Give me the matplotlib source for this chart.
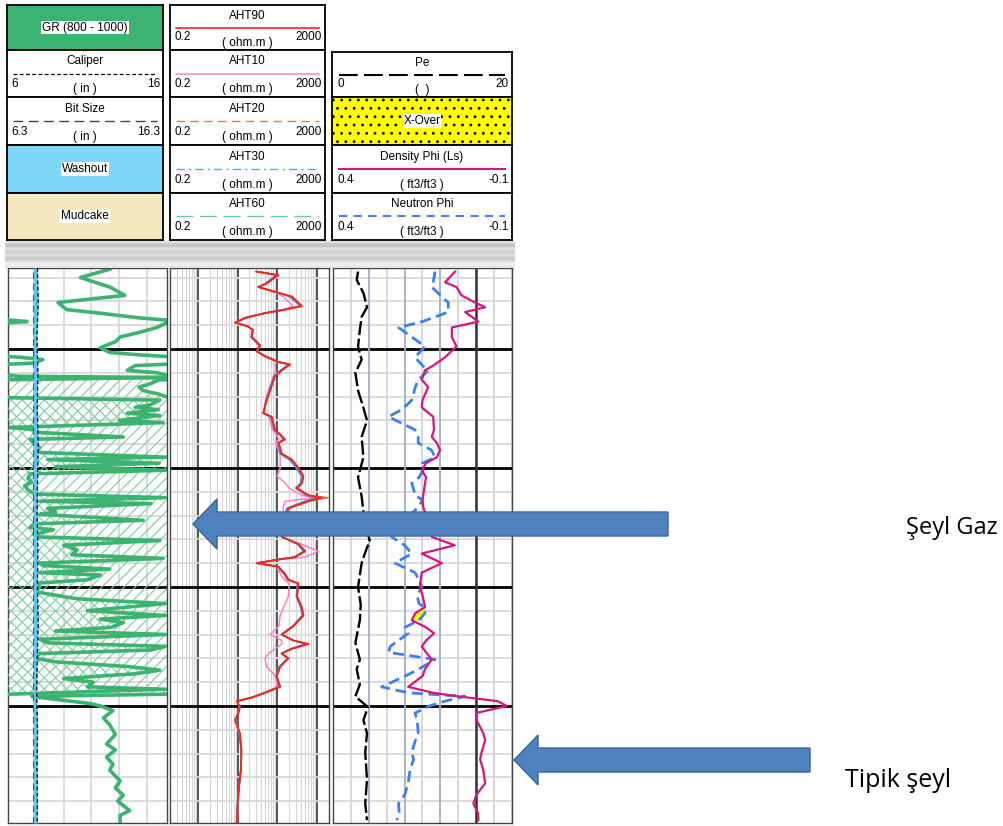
import matplotlib
matplotlib.use("Agg")
import matplotlib.pyplot as plt
import numpy as np
from matplotlib.lines import Line2D
from matplotlib.patches import Rectangle, Polygon
from matplotlib.ticker import MultipleLocator, LogLocator

W, H = 1004, 826

# depth window and the shale-gas interval used for the GR fill
DEPTH_TOP, DEPTH_BASE = 1003.2, 1049.84
GAS_TOP, GAS_BASE = 1012.3, 1039.0

# track scales
GR_SCALE = (0, 200)
GR_WRAP = (200, 400)
CAL_SCALE = (6, 16)
BIT_SCALE = (6.3, 16.3)
RES_SCALE = (0.2, 2000)
PE_SCALE = (0, 20)
PHI_SCALE = (0.4, -0.1)
BIT_SIZE = 7.875

# gamma ray (values above 200 wrap onto the backup scale)
gr_depth = np.array([
    1003.3, 1004.0, 1004.8, 1005.5, 1006.1, 1006.7, 1007.0, 1007.4, 1007.6, 1007.7,
    1007.8, 1008.2, 1008.6, 1009.0, 1009.4, 1009.9, 1010.3, 1010.5, 1010.7, 1010.9,
    1011.2, 1011.4, 1011.8, 1012.0, 1012.2,
    1012.3, 1012.4, 1012.6, 1012.9, 1013.2, 1013.5, 1013.8, 1014.1, 1014.3, 1014.7,
    1014.9, 1015.1, 1015.4, 1015.6, 1016.0, 1016.2, 1016.6, 1016.8, 1017.0, 1017.4,
    1017.6, 1018.0, 1018.3, 1018.5, 1018.7, 1019.1, 1019.3, 1019.6, 1019.9, 1020.2,
    1020.5, 1020.9, 1021.2, 1021.5, 1021.9, 1022.2, 1022.5, 1022.8, 1023.0, 1023.4,
    1023.7, 1023.9, 1024.4, 1024.7, 1025.0, 1025.2, 1025.6, 1025.8, 1026.1, 1026.5,
    1026.9, 1027.3, 1027.6, 1028.0, 1028.2, 1028.5, 1028.8, 1029.0, 1029.4, 1029.7,
    1030.0, 1030.4, 1030.7, 1031.0, 1031.4, 1031.7, 1032.0, 1032.4, 1032.7, 1033.0,
    1033.4, 1033.7, 1034.0, 1034.4, 1034.7, 1035.0, 1035.3, 1035.6, 1036.0, 1036.3,
    1036.7, 1037.0, 1037.3, 1037.7, 1038.0, 1038.4, 1038.6, 1039.0,
    1039.2, 1039.5, 1039.8, 1040.0, 1040.4, 1041.0, 1041.6, 1042.4, 1043.2, 1043.7,
    1044.3, 1044.9, 1045.4, 1046.3, 1046.9, 1047.5, 1048.0, 1048.8, 1049.2, 1049.8])
gr = np.array([
    128, 91, 128, 147, 63, 74, 116, 166, 205, 224,
    200, 187, 166, 141, 135, 116, 128, 166, 215, 244,
    230, 160, 150, 187, 199,
    215, 398, 190, 180, 165, 170, 190, 203, 391, 379,
    360, 389, 350, 391, 340, 395, 203, 236, 234, 345,
    228, 234, 240, 236, 240, 398, 250, 390, 260, 398,
    228, 225, 230, 221, 226, 234, 398, 240, 380, 250,
    260, 240, 370, 234, 228, 257, 232, 240, 391, 270,
    287, 280, 395, 240, 244, 328, 240, 316, 300, 234,
    240, 234, 260, 287, 398, 350, 300, 398, 316, 345,
    330, 260, 398, 240, 250, 398, 380, 240, 234, 260,
    353, 391, 360, 270, 307, 300, 398, 209,
    30, 66, 103, 116, 132, 120, 128, 135, 124, 135,
    124, 132, 128, 141, 135, 145, 138, 153, 141, 141])

# caliper (in)
cal_depth = np.array([1003.2, 1006, 1009, 1012, 1015, 1018, 1021, 1024, 1027,
                      1030, 1033, 1036, 1039, 1042, 1045, 1048, 1049.84])
cal = np.array([7.85, 7.9, 7.82, 7.88, 7.84, 7.9, 7.86, 7.83, 7.88,
                7.85, 7.9, 7.84, 7.8, 7.86, 7.83, 7.85, 7.84])

# array induction resistivities (ohm.m)
res_depth = np.array([
    1003.5, 1003.8, 1004.5, 1004.8, 1005.2, 1005.6, 1006.4, 1006.7, 1007.0, 1007.4,
    1007.8, 1008.1, 1008.4, 1009.0, 1009.7, 1010.2, 1010.6, 1011.1, 1011.3, 1011.8,
    1012.3, 1013.5, 1014.3, 1015.4, 1015.7, 1016.8, 1017.2, 1017.6, 1017.9, 1018.8,
    1019.3, 1020.0, 1020.7, 1021.3, 1021.7, 1022.3, 1022.5, 1022.8, 1023.4, 1024.5,
    1025.8, 1026.4, 1027.0, 1027.5, 1027.7, 1028.0, 1028.3, 1028.9, 1029.4, 1029.7,
    1030.8, 1031.7, 1032.4, 1033.3, 1034.0, 1034.5, 1034.8, 1035.2, 1035.6, 1036.0,
    1036.7, 1037.5, 1038.4, 1038.9, 1039.3, 1039.6, 1040.1, 1040.6, 1041.2, 1042.3,
    1043.7, 1045.4, 1046.8, 1048.2, 1049.8])
aht90 = [30, 107, 54, 33, 88, 233, 416, 157, 49, 15,
         8.6, 18, 24, 23, 37, 30, 49, 107, 211, 130,
         88, 66, 54, 44, 73, 88, 118, 157, 107, 130,
         233, 341, 457, 416, 311, 611, 1300, 611, 191, 150,
         130, 341, 505, 282, 107, 30, 107, 157, 191, 341,
         311, 416, 457, 255, 130, 255, 611, 233, 130, 191,
         118, 97, 118, 49, 23, 9.7, 11.5, 10.5, 8.6, 11.5,
         12.6, 12.2, 10.8, 10, 9.5]
aht60 = [32, 100, 52, 34, 90, 220, 400, 150, 47, 15,
         9.0, 18, 25, 22, 36, 31, 48, 110, 200, 125,
         85, 64, 55, 45, 70, 85, 120, 150, 110, 125,
         220, 330, 440, 400, 300, 580, 1150, 560, 185, 150,
         135, 330, 480, 270, 105, 31, 105, 150, 185, 330,
         320, 400, 440, 250, 128, 250, 560, 225, 128, 185,
         115, 95, 115, 48, 22, 9.8, 11.2, 10.4, 8.8, 11.3,
         12.4, 12.0, 10.9, 10.1, 9.6]
aht30 = [31, 95, 50, 35, 85, 200, 380, 145, 46, 16,
         9.2, 19, 24, 22, 35, 32, 47, 105, 190, 120,
         82, 62, 52, 46, 68, 82, 115, 140, 105, 115,
         200, 300, 400, 380, 290, 520, 900, 480, 170, 145,
         130, 320, 460, 260, 100, 32, 100, 145, 180, 320,
         300, 380, 420, 240, 125, 240, 520, 215, 125, 180,
         112, 93, 112, 47, 22, 10, 11, 10.2, 8.9, 11.2,
         12.3, 12.1, 11, 10.2, 9.7]
aht20 = [30, 105, 53, 33, 87, 230, 410, 160, 48, 15,
         8.8, 18, 24, 23, 37, 30, 49, 108, 205, 128,
         87, 65, 54, 44, 72, 87, 118, 155, 108, 128,
         230, 340, 450, 410, 310, 620, 1900, 640, 195, 150,
         130, 340, 500, 280, 107, 30, 107, 155, 190, 340,
         310, 410, 450, 255, 130, 255, 600, 230, 130, 190,
         118, 97, 118, 49, 23, 9.8, 11.4, 10.5, 8.7, 11.4,
         12.5, 12.1, 10.8, 10.0, 9.5]
aht10 = [28, 90, 50, 36, 80, 140, 250, 140, 45, 17,
         9.5, 19, 23, 22, 34, 33, 45, 95, 88, 90,
         80, 60, 50, 47, 62, 75, 95, 110, 90, 118,
         118, 118, 100, 160, 200, 400, 900, 157, 140, 140,
         130, 400, 1074, 500, 110, 33, 95, 120, 150, 200,
         190, 145, 118, 110, 66, 130, 130, 90, 60, 49,
         54, 90, 100, 45, 22, 10, 11, 10.3, 9, 11,
         12.2, 12, 11, 10.3, 9.8]

# photoelectric factor
pe_depth = [1003.5, 1004.2, 1005.3, 1006.5, 1007.3, 1008.4, 1009.8, 1010.9, 1012.0, 1013.5,
            1014.7, 1016.0, 1017.4, 1019.1, 1020.8, 1022.4, 1024.4, 1026.1, 1027.1, 1028.0,
            1030.0, 1031.5, 1032.8, 1034.7, 1036.1, 1036.9, 1038.2, 1039.2, 1040.1, 1041.2,
            1042.3, 1043.9, 1046.2, 1048.2, 1049.6]
pe = [2.8, 2.65, 3.4, 3.8, 3.2, 3.0, 2.8, 3.2, 2.5, 2.8,
      3.3, 3.8, 3.2, 3.4, 2.8, 3.2, 3.5, 4.1, 3.6, 3.2,
      2.8, 3.1, 3.0, 2.5, 3.0, 2.65, 3.0, 2.5, 3.9, 3.4,
      3.8, 3.6, 3.8, 3.6, 3.8]

# density and neutron porosity (ft3/ft3, limestone matrix)
por_depth = np.array([
    1003.5, 1004.4, 1004.8, 1005.5, 1006.1, 1006.5, 1006.9, 1007.7, 1008.2, 1009.0,
    1009.8, 1010.7, 1011.4, 1011.8, 1012.6, 1013.2, 1014.3, 1014.9, 1015.1, 1015.7,
    1016.8, 1017.4, 1017.9, 1018.5, 1019.1, 1019.6, 1020.2, 1020.8, 1021.3, 1022.3,
    1022.7, 1023.3, 1024.4, 1025.8, 1026.5, 1027.2, 1028.0, 1028.8, 1029.4, 1030.0,
    1030.7, 1031.4, 1031.7, 1032.2, 1032.8, 1033.4, 1033.9, 1034.5, 1035.0, 1035.5,
    1036.1, 1036.9, 1037.5, 1038.4, 1038.9, 1039.2, 1039.6, 1040.0, 1040.6, 1041.2,
    1042.3, 1042.9, 1043.9, 1044.5, 1045.4, 1046.5, 1047.5, 1048.2, 1049.0, 1049.6])
dphi = np.array([
    0.059, 0.087, 0.055, 0.041, 0.003, -0.025, 0.031, -0.006, 0.068, 0.068,
    0.055, 0.087, 0.120, 0.143, 0.152, 0.134, 0.150, 0.152, 0.145, 0.120,
    0.118, 0.124, 0.110, 0.101, 0.110, 0.140, 0.152, 0.140, 0.143, 0.148,
    0.150, 0.148, 0.135, 0.124, 0.060, 0.152, 0.096, 0.152, 0.155, 0.157,
    0.150, 0.145, 0.143, 0.170, 0.180, 0.140, 0.118, 0.140, 0.152, 0.140,
    0.124, 0.143, 0.150, 0.190, 0.120, 0.050, -0.060, -0.085, 0.000, -0.001,
    -0.020, -0.025, -0.015, -0.011, -0.020, -0.025, 0.000, 0.008, -0.005, -0.006])
nphi = np.array([
    0.115, 0.120, 0.124, 0.100, 0.078, 0.078, 0.078, 0.150, 0.217, 0.180,
    0.143, 0.171, 0.150, 0.134, 0.162, 0.170, 0.180, 0.200, 0.208, 0.245,
    0.171, 0.162, 0.162, 0.125, 0.115, 0.150, 0.148, 0.160, 0.180, 0.170,
    0.150, 0.162, 0.200, 0.236, 0.200, 0.180, 0.227, 0.171, 0.160, 0.152,
    0.165, 0.160, 0.145, 0.143, 0.160, 0.199, 0.190, 0.217, 0.240, 0.245,
    0.115, 0.160, 0.199, 0.264, 0.190, 0.031, 0.087, 0.130, 0.171, 0.165,
    0.162, 0.170, 0.180, 0.175, 0.185, 0.190, 0.200, 0.217, 0.215, 0.222])

GR_GREEN = '#3cb371'
HATCH_GREEN = '#7ccd9c'
WASH_BLUE = '#7fd7f8'
MUD_TAN = '#f3e8c0'

plt.rcParams['font.family'] = ['Liberation Sans', 'DejaVu Sans']
plt.rcParams['hatch.linewidth'] = 0.8
fig = plt.figure(figsize=(W / 100, H / 100), dpi=100)


def px_axes(x0, y0, x1, y1):
    return fig.add_axes([x0 / W, 1 - y1 / H, (x1 - x0) / W, (y1 - y0) / H])


def log_track(x0, x1, xscale='linear'):
    ax = px_axes(x0, 268, x1, 823)
    ax.set_xscale(xscale)
    ax.set_ylim(DEPTH_BASE, DEPTH_TOP)
    ax.yaxis.set_major_locator(MultipleLocator(10))
    ax.yaxis.set_minor_locator(MultipleLocator(2))
    ax.grid(True, axis='y', which='minor', color='#d9d9d9', lw=1.3)
    ax.grid(True, axis='y', which='major', color='black', lw=2.0)
    ax.tick_params(which='both', length=0, labelleft=False, labelbottom=False)
    ax.set_axisbelow(True)
    for sp in ax.spines.values():
        sp.set_color('#444444')
        sp.set_linewidth(1.0)
    return ax


def overlay(ax, lim):
    o = ax.twiny()
    o.set_xlim(*lim)
    o.set_axis_off()
    return o


# ---- track 1: GR, caliper, bit size
ax1 = log_track(8, 167)
ax1.set_xlim(*GR_SCALE)
ax1.xaxis.set_major_locator(MultipleLocator(35))
ax1.grid(True, axis='x', which='major', color='#d9d9d9', lw=1.3)
gas = (gr_depth >= GAS_TOP) & (gr_depth <= GAS_BASE)
ax1.fill_betweenx(gr_depth, GR_SCALE[0], gr, where=gas, facecolor='none',
                  edgecolor=HATCH_GREEN, hatch='///', lw=0)
ax1.plot(gr, gr_depth, color=GR_GREEN, lw=2.6)

ax1w = overlay(ax1, GR_WRAP)
ax1w.fill_betweenx(gr_depth, GR_WRAP[0], gr, where=gas, facecolor='none',
                   edgecolor=HATCH_GREEN, hatch='\\\\\\', lw=0)
ax1w.plot(gr, gr_depth, color=GR_GREEN, lw=2.6)

axb = overlay(ax1, BIT_SCALE)
axb.fill_betweenx(cal_depth, BIT_SIZE, cal - CAL_SCALE[0] + BIT_SCALE[0],
                  color='#5cc6ef', lw=0)
axb.axvline(BIT_SIZE, color='#555555', lw=0.8, dashes=(6, 4))
axc = overlay(ax1, CAL_SCALE)
axc.plot(cal, cal_depth, color='black', lw=0.9, dashes=(3, 2))

# ---- track 2: resistivity
ax2 = log_track(170, 329, 'log')
ax2.set_xlim(*RES_SCALE)
ax2.xaxis.set_major_locator(LogLocator(base=10, numticks=12))
ax2.xaxis.set_minor_locator(LogLocator(base=10, subs=np.arange(2, 10), numticks=12))
ax2.grid(True, axis='x', which='minor', color='#d2d2d2', lw=0.7)
ax2.grid(True, axis='x', which='major', color='#555555', lw=1.4)
ax2.plot(aht10, res_depth, color='#ff7fc8', lw=1.1)
ax2.plot(aht30, res_depth, color='#5a8cff', lw=1.1)
ax2.plot(aht20, res_depth, color='#b87a50', lw=1.1)
ax2.plot(aht60, res_depth, color='#2f9e5c', lw=1.1)
ax2.plot(aht90, res_depth, color='#ff2020', lw=1.3)

# ---- track 3: Pe, density and neutron porosity
ax3 = log_track(333, 512)
ax3.set_xlim(*PHI_SCALE)
ax3.xaxis.set_major_locator(MultipleLocator(0.05))
ax3.grid(True, axis='x', which='major', color='#d4d4d4', lw=1.3)
for v in (0.3, 0.2, 0.1):
    ax3.axvline(v, color='#a3b3c6', lw=1.3, zorder=0.6)
ax3.axvline(0.0, color='#333333', lw=1.8, zorder=0.6)
ax3.fill_betweenx(por_depth, dphi, nphi, where=dphi > nphi, interpolate=True,
                  color='#ffff00', lw=0, zorder=1.5)
ax3.plot(nphi, por_depth, color='#3f7ef0', lw=2.0, dashes=(4, 2))
ax3.plot(dphi, por_depth, color='#d6157e', lw=1.6)
axp = overlay(ax3, PE_SCALE)
axp.plot(pe, pe_depth, color='black', lw=1.7, dashes=(6, 1.5))

for ax in (ax1, ax2, ax3):
    ax.set_ylim(DEPTH_BASE, DEPTH_TOP)


# ---- header
def header_box(x0, y0, x1, y1):
    ax = px_axes(x0, y0, x1, y1)
    ax.set_xlim(0, 1)
    ax.set_ylim(0, 1)
    ax.set_xticks([])
    ax.set_yticks([])
    for sp in ax.spines.values():
        sp.set_color('black')
        sp.set_linewidth(1.3)
    return ax


def curve_header(x0, y0, x1, y1, name, scale, unit, **style):
    ax = header_box(x0, y0, x1, y1)
    ax.text(0.5, 0.76, name, ha='center', va='center', fontsize=8.5)
    ax.add_line(Line2D([0.04, 0.96], [0.5, 0.5], **style))
    ax.text(0.03, 0.28, f"{scale[0]:g}", ha='left', va='center', fontsize=8.5)
    ax.text(0.98, 0.28, f"{scale[1]:g}", ha='right', va='center', fontsize=8.5)
    ax.text(0.5, 0.16, unit, ha='center', va='center', fontsize=8.5)


def fill_header(x0, y0, x1, y1, label, face, hatch=None):
    ax = header_box(x0, y0, x1, y1)
    ax.add_patch(Rectangle((0, 0), 1, 1, facecolor=face, edgecolor='black',
                           hatch=hatch, lw=0))
    ax.text(0.5, 0.5, label, ha='center', va='center', fontsize=8.5,
            bbox=dict(facecolor='white', edgecolor='none', pad=0.6))


rows = [5, 50, 97, 145, 193, 240]
fill_header(7, rows[0], 163, rows[1], 'GR (800 - 1000)', GR_GREEN)
curve_header(7, rows[1], 163, rows[2], 'Caliper', CAL_SCALE, '( in )',
             color='black', lw=0.9, dashes=(3, 2))
curve_header(7, rows[2], 163, rows[3], 'Bit Size', BIT_SCALE, '( in )',
             color='#444444', lw=1.0, dashes=(7, 4))
fill_header(7, rows[3], 163, rows[4], 'Washout', WASH_BLUE)
fill_header(7, rows[4], 163, rows[5], 'Mudcake', MUD_TAN)

res_styles = [
    ('AHT90', dict(color='#ff2020', lw=1.2)),
    ('AHT10', dict(color='#ff8ccc', lw=1.2)),
    ('AHT20', dict(color='#c8845a', lw=1.0, dashes=(6, 4))),
    ('AHT30', dict(color='#6a9cff', lw=1.0, dashes=(6, 3, 1.5, 3))),
    ('AHT60', dict(color='#66cc99', lw=1.0, dashes=(12, 5))),
]
for (name, style), y0, y1 in zip(res_styles, rows[:-1], rows[1:]):
    curve_header(170, y0, 325, y1, name, RES_SCALE, '( ohm.m )', **style)

curve_header(332, 52, 512, 97, 'Pe', PE_SCALE, '(  )',
             color='black', lw=1.5, dashes=(9, 3))
fill_header(332, 97, 512, 145, 'X-Over', '#ffff00', hatch='..')
curve_header(332, 145, 512, 193, 'Density Phi (Ls)', PHI_SCALE, '( ft3/ft3 )',
             color='#d6157e', lw=1.5)
curve_header(332, 193, 512, 240, 'Neutron Phi', PHI_SCALE, '( ft3/ft3 )',
             color='#4a80f0', lw=1.5, dashes=(4, 3))

# grey separator between header and tracks
band = np.array([0.88, 0.86, 0.82, 0.78, 0.76, 0.78, 0.84, 0.88, 0.87, 0.85,
                 0.83, 0.82, 0.83, 0.85, 0.86, 0.84, 0.81, 0.79, 0.80, 0.84,
                 0.88, 0.91, 0.93, 0.93, 0.92, 0.90, 0.88])
axg = px_axes(5, 241, 515, 268)
axg.imshow(band[:, None], cmap='gray', vmin=0, vmax=1, aspect='auto',
           interpolation='nearest')
axg.set_axis_off()


# ---- callout arrows and labels
def block_arrow(tip_x, tip_y, tail_x, shaft_h=24, head_len=24, head_h=50):
    hx = tip_x + head_len
    pts = [(tip_x, tip_y), (hx, tip_y - head_h / 2), (hx, tip_y - shaft_h / 2),
           (tail_x, tip_y - shaft_h / 2), (tail_x, tip_y + shaft_h / 2),
           (hx, tip_y + shaft_h / 2), (hx, tip_y + head_h / 2)]
    pts = [(x / W, 1 - y / H) for x, y in pts]
    fig.add_artist(Polygon(pts, closed=True, transform=fig.transFigure,
                           facecolor='#4f81bd', edgecolor='#3a6597', lw=1.0,
                           zorder=10))


block_arrow(193, 524, 668)
block_arrow(514, 760, 810)

fig.text(906 / W, 1 - 534 / H, 'Şeyl Gaz', fontsize=17, family=['Open Sans', 'DejaVu Sans'],
         ha='left', va='baseline')
fig.text(845 / W, 1 - 787 / H, 'Tipik şeyl', fontsize=18, family=['Open Sans', 'DejaVu Sans'],
         ha='left', va='baseline')

fig.savefig('out.png', dpi=100)
